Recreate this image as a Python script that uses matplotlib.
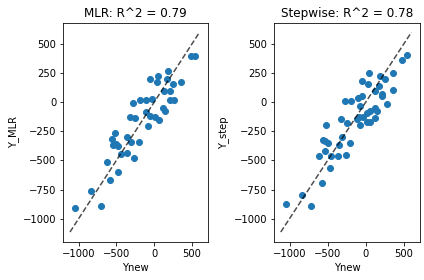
import matplotlib
matplotlib.use("Agg")
import matplotlib.pyplot as plt
import numpy as np

# test set predictions, MLR model
mlr_x = [-1050, -835, -704, -624, -580, -478, -557, -520, -544, -500, -478,
         -434, -358, -358, -310, -265, -199, -323, -257, -279, -190, -111,
         -35, -58, 31, 53, -111, -58, 9, 66, -80, 119, 142, 128, 208, 164,
         186, 252, 350, 208, 265, 482, 540]
mlr_y = [-905, -759, -888, -517, -672, -603, -316, -264, -368, -362, -374,
         -448, -434, -302, -345, -483, -345, -124, -138, -9, 20, 20,
         29, 198, 172, 221, -83, -115, -124, -152, -204, -46, -75, 92, 98, 198,
         270, 158, 175, 17, 17, 399, 399]

# stepwise model
step_x = [-1044, -832, -712, -575, -473, -619, -451, -367, -261, -566, -531,
          -500, -540, -314, -354, -208, -522, -319, -243, -270, -190, -102,
          -53, -75, -111, -88, -31, 13, 22, 58, 58, -75, 119, 146, 124,
          -53, 31, 44, 124, 168, 186, 212, 212, 257, 274, 354, 363, 473, 540]
step_y = [-871, -793, -888, -698, -569, -463, -463, -463, -457, -325, -333,
          -353, -417, -296, -368, -353, -198, -147, -181, 9, 9, 34,
          55, -37, -147, -129, -124, -89, -167, -167, -80, -198, -52, -72, -138,
          184, 158, 250, 98, 135, 221, 72, 55, 198, -17, 106, 250, 365, 408]

line_lo, line_hi = -1115, 600

fig = plt.figure(figsize=(424 / 72, 280 / 72), dpi=72)

ax1 = fig.add_axes([0.149, 0.136, 0.342, 0.782])
ax1.scatter(mlr_x, mlr_y)
ax1.plot([line_lo, line_hi], [line_lo, line_hi], "k--", alpha=0.7)
ax1.set_xlabel("Ynew")
ax1.set_ylabel("Y_MLR")
ax1.set_title("MLR: R^2 = 0.79")
ax1.set_xlim(-1205, 715)
ax1.set_ylim(-1200, 680)

ax2 = fig.add_axes([0.646, 0.136, 0.345, 0.782])
ax2.scatter(step_x, step_y)
ax2.plot([line_lo, line_hi], [line_lo, line_hi], "k--", alpha=0.7)
ax2.set_xlabel("Ynew")
ax2.set_ylabel("Y_step")
ax2.set_title("Stepwise: R^2 = 0.78")
ax2.set_xlim(-1205, 715)
ax2.set_ylim(-1200, 680)

fig.savefig("out.png", dpi=72)
